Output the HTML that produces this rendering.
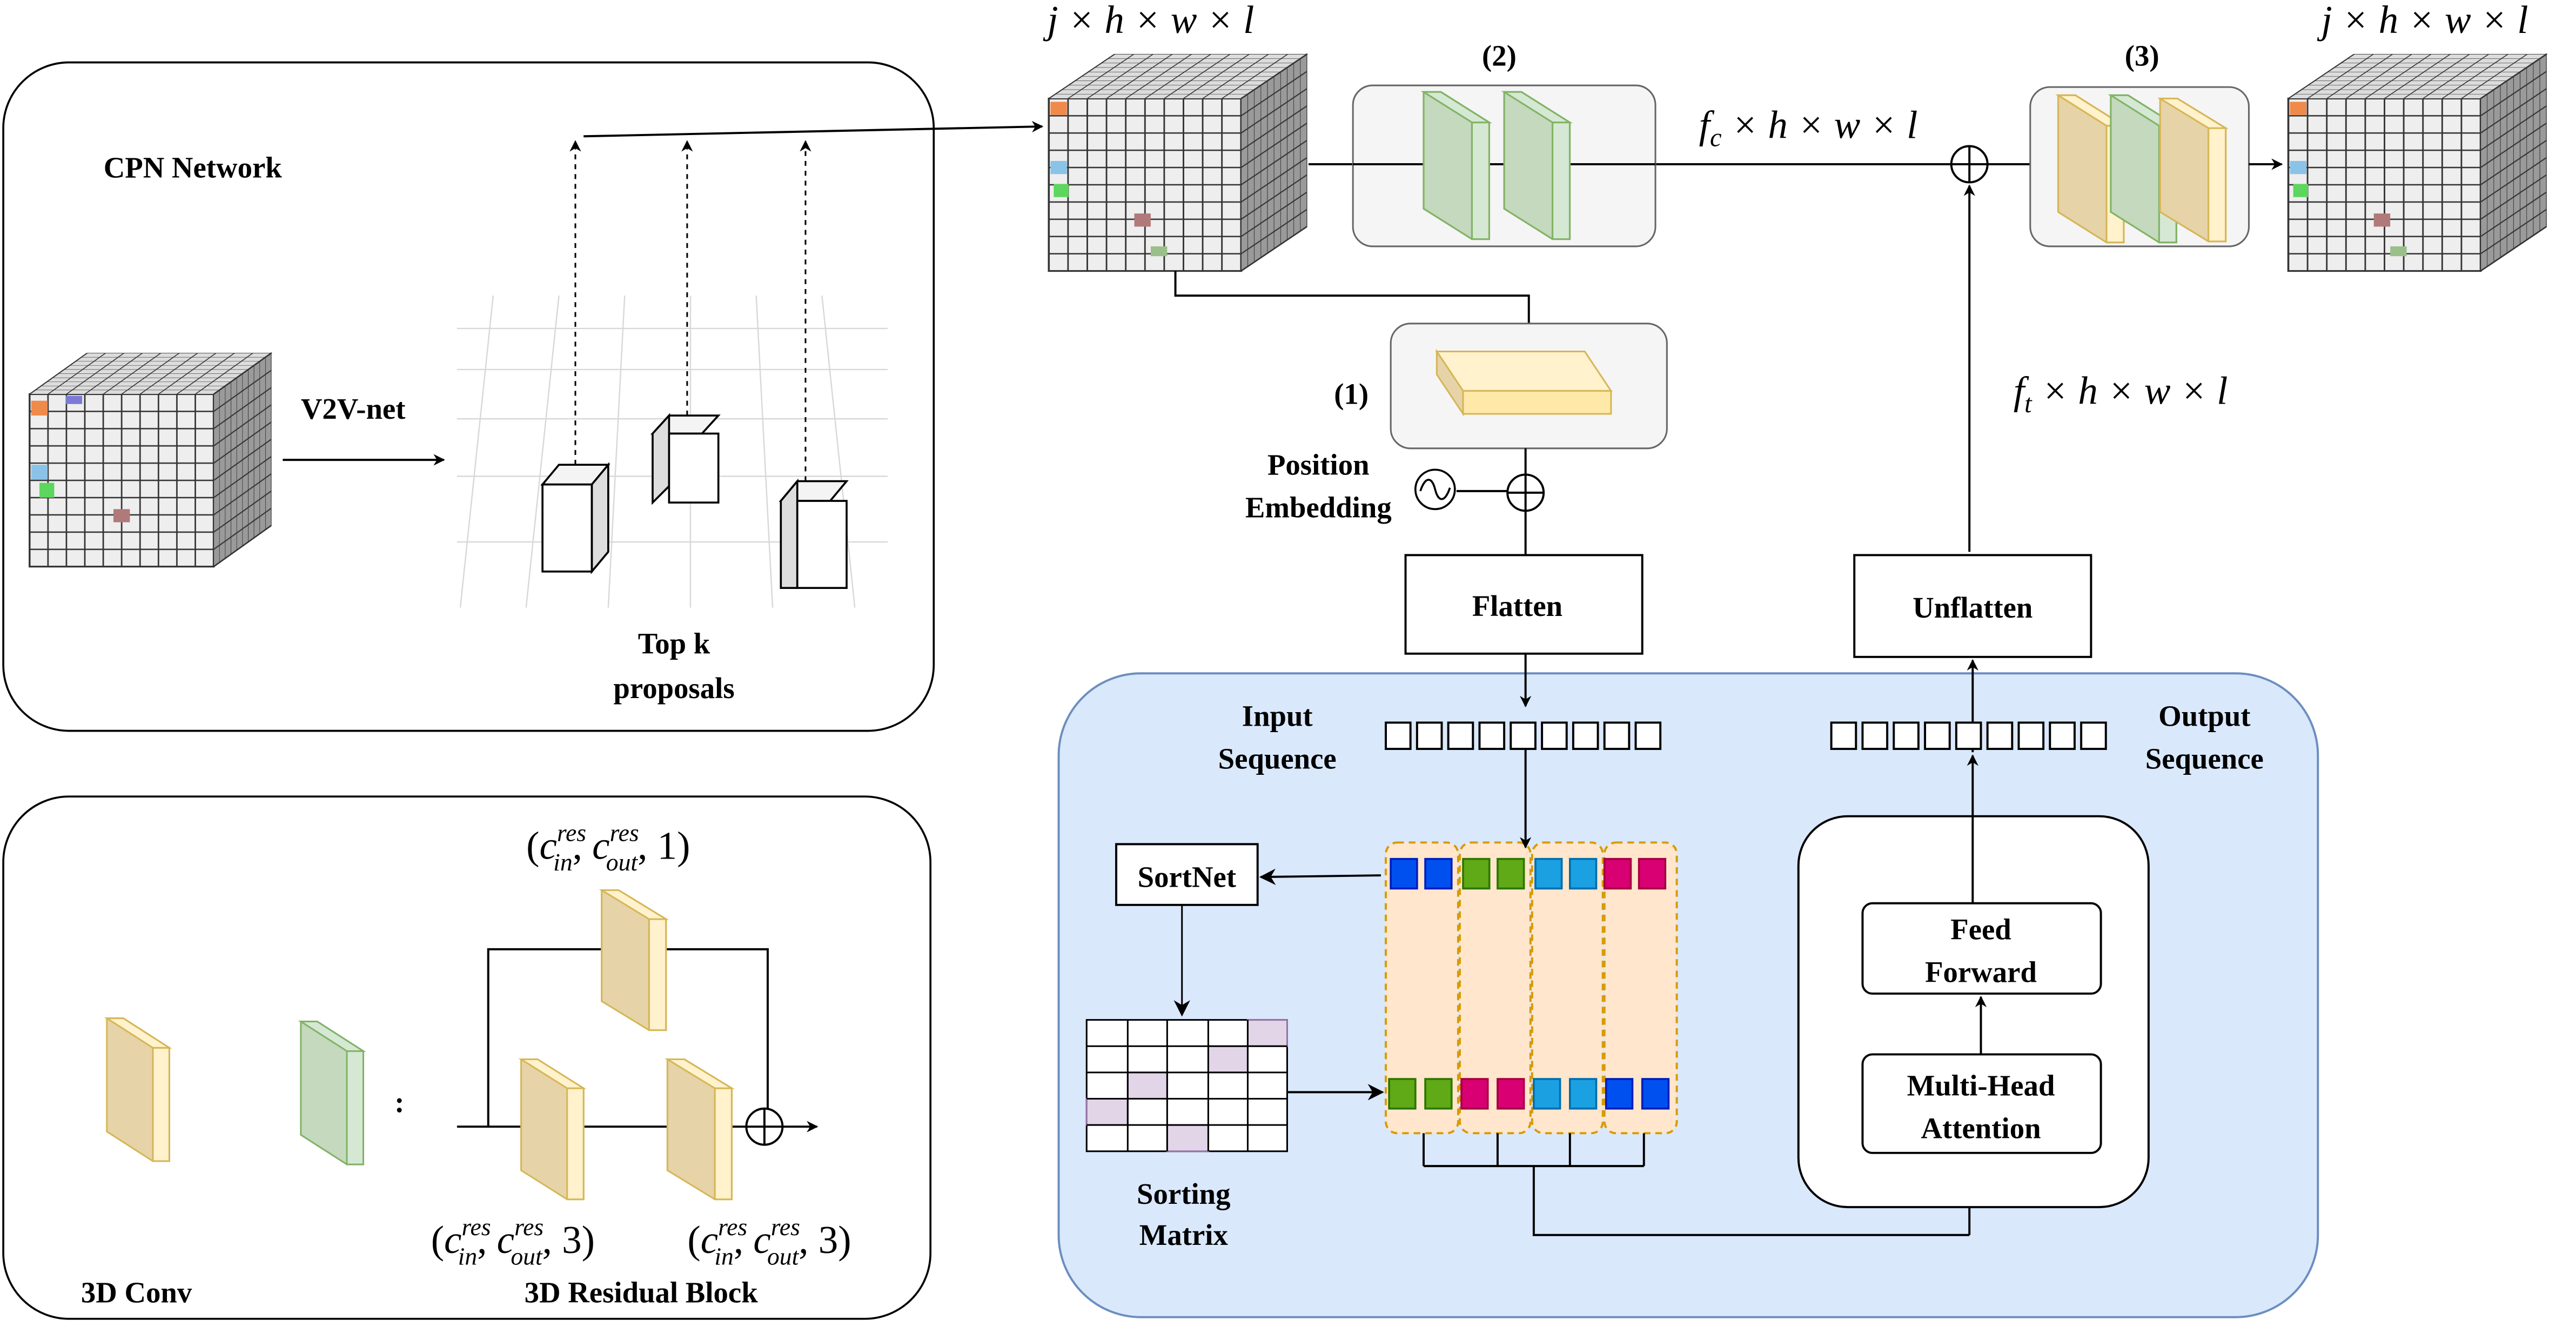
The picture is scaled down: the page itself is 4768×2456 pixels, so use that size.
<!DOCTYPE html>
<html><head><meta charset="utf-8"><style>html,body{margin:0;padding:0;background:#fff}svg{display:block}
text{font-family:"Liberation Serif",serif;fill:#000}
.b{font-weight:bold;font-size:18px}
.m{font-style:italic;font-size:24px}
</style></head><body>
<svg width="4768" height="2456" viewBox="0 0 1567 808" preserveAspectRatio="none" xmlns="http://www.w3.org/2000/svg">
<defs>
<pattern id="g" width="10" height="10" patternUnits="userSpaceOnUse"><rect width="10" height="10" fill="#eeeeee" stroke="#333" stroke-width="0.8"/></pattern>
<pattern id="g2" width="10" height="10" patternUnits="userSpaceOnUse"><rect width="10" height="10" fill="#9a9a9a" stroke="#333" stroke-width="0.8"/></pattern>
<pattern id="g3" width="10" height="10" patternUnits="userSpaceOnUse"><rect width="10" height="10" fill="#dcdcdc" stroke="#333" stroke-width="0.8"/></pattern>
<marker id="a" viewBox="0 0 10 10" refX="9" refY="5" markerWidth="7" markerHeight="7" orient="auto" markerUnits="userSpaceOnUse"><path d="M0,0 L10,5 L0,10 L3,5z" fill="#000"/></marker>
<marker id="ab" viewBox="0 0 10 10" refX="9" refY="5" markerWidth="10" markerHeight="10" orient="auto" markerUnits="userSpaceOnUse"><path d="M0,0 L10,5 L0,10 L3,5z" fill="#000"/></marker>
<g id="front"><rect width="100" height="100" fill="url(#g)" stroke="#333"/></g>
<g id="top"><rect width="100" height="100" fill="url(#g3)" stroke="#333"/></g>
<g id="side"><rect width="100" height="100" fill="url(#g2)" stroke="#333"/></g>
<g id="ys"><polygon points="0,0 10,0 38,18 38,87 28,87 0,69" fill="#e6d3a8" stroke="#d6b656"/><rect x="28" y="18" width="10" height="69" fill="#fff2cc" stroke="#d6b656"/><polygon points="0,0 10,0 38,18 28,18" fill="#fff2cc" stroke="#d6b656"/></g>
<g id="gs"><polygon points="0,0 10,0 38,18 38,87 28,87 0,69" fill="#c4d9bd" stroke="#82b366"/><rect x="28" y="18" width="10" height="69" fill="#d5e8d4" stroke="#82b366"/><polygon points="0,0 10,0 38,18 28,18" fill="#d5e8d4" stroke="#82b366"/></g>
</defs>

<rect x="2" y="38" width="566" height="407" rx="40" fill="#fff" stroke="#000" stroke-width="1.2"/>
<text x="63" y="108" class="b">CPN Network</text>
<use href="#front" transform="matrix(1.12,0,0,1.05,18,240)"/>
<use href="#top" transform="matrix(1.12,0,-0.35,0.25,53,215)"/>
<use href="#side" transform="matrix(0.35,-0.25,0,1.05,130,240)"/>
<rect x="19" y="244" width="10" height="9" fill="#f08a4b"/><rect x="19" y="283" width="10" height="9" fill="#8bc3e8"/><rect x="24" y="294" width="9" height="9" fill="#5cd65c"/><rect x="69" y="310" width="10" height="8" fill="#b07a7a"/><rect x="40" y="241" width="10" height="5" fill="#7b7bd6"/>
<text x="183" y="255" class="b">V2V-net</text>
<line x1="172" y1="280" x2="270" y2="280" stroke="#000" stroke-width="1.3" marker-end="url(#a)"/>
<g stroke="#d8d8d8" stroke-width="0.8">
<line x1="278" y1="200" x2="540" y2="200"/><line x1="278" y1="225" x2="540" y2="225"/><line x1="278" y1="255" x2="540" y2="255"/><line x1="278" y1="290" x2="540" y2="290"/><line x1="278" y1="330" x2="540" y2="330"/>
<line x1="300" y1="180" x2="280" y2="370"/><line x1="340" y1="180" x2="320" y2="370"/><line x1="380" y1="180" x2="370" y2="370"/><line x1="420" y1="180" x2="420" y2="370"/><line x1="460" y1="180" x2="470" y2="370"/><line x1="500" y1="180" x2="520" y2="370"/>
</g>
<g stroke="#000" stroke-width="1.2">
<polygon points="330,295 340,283 370,283 360,295" fill="#f4f4f4"/><polygon points="360,295 370,283 370,336 360,348" fill="#ddd"/><rect x="330" y="295" width="30" height="53" fill="#fff"/>
<polygon points="397,264 407,253 437,253 427,264" fill="#f4f4f4"/><polygon points="397,264 407,253 407,296 397,306" fill="#ddd"/><rect x="407" y="264" width="30" height="42" fill="#fff"/>
<polygon points="475,305 485,293 515,293 505,305" fill="#f4f4f4"/><polygon points="475,305 485,293 485,358 475,358" fill="#ddd"/><rect x="485" y="305" width="30" height="53" fill="#fff"/>
</g>
<g stroke="#000" stroke-width="1" stroke-dasharray="3,3">
<line x1="350" y1="283" x2="350" y2="86" marker-end="url(#a)"/>
<line x1="418" y1="253" x2="418" y2="86" marker-end="url(#a)"/>
<line x1="490" y1="293" x2="490" y2="86" marker-end="url(#a)"/>
</g>
<line x1="355" y1="83" x2="634" y2="77" stroke="#000" stroke-width="1.3" marker-end="url(#a)"/>
<text x="410" y="398" class="b" text-anchor="middle">Top k</text>
<text x="410" y="425" class="b" text-anchor="middle">proposals</text>

<text x="700" y="20" class="m" text-anchor="middle">j × h × w × l</text>
<use href="#front" transform="matrix(1.17,0,0,1.05,638,60)"/>
<use href="#top" transform="matrix(1.17,0,-0.4,0.27,678,33)"/>
<use href="#side" transform="matrix(0.4,-0.27,0,1.05,755,60)"/>
<rect x="639" y="62" width="10" height="8" fill="#f08a4b"/><rect x="639" y="98" width="10" height="8" fill="#8bc3e8"/><rect x="641" y="112" width="9" height="8" fill="#5cd65c"/><rect x="690" y="130" width="10" height="8" fill="#b07a7a"/><rect x="700" y="150" width="10" height="6" fill="#9bbf8a"/>
<text x="1475" y="20" class="m" text-anchor="middle">j × h × w × l</text>
<use href="#front" transform="matrix(1.17,0,0,1.05,1392,60)"/>
<use href="#top" transform="matrix(1.17,0,-0.4,0.27,1432,33)"/>
<use href="#side" transform="matrix(0.4,-0.27,0,1.05,1509,60)"/>
<rect x="1393" y="62" width="10" height="8" fill="#f08a4b"/><rect x="1393" y="98" width="10" height="8" fill="#8bc3e8"/><rect x="1395" y="112" width="9" height="8" fill="#5cd65c"/><rect x="1444" y="130" width="10" height="8" fill="#b07a7a"/><rect x="1454" y="150" width="10" height="6" fill="#9bbf8a"/>

<text x="912" y="40" class="b" text-anchor="middle">(2)</text>
<line x1="796" y1="100" x2="1187" y2="100" stroke="#000" stroke-width="1.3"/>
<rect x="823" y="52" width="184" height="98" rx="12" fill="#f5f5f5" stroke="#666"/>
<line x1="823" y1="100" x2="1007" y2="100" stroke="#000" stroke-width="1.3"/>
<use href="#gs" transform="translate(866,56) scale(1.05,1.03)"/>
<use href="#gs" transform="translate(915,56) scale(1.05,1.03)"/>
<text x="1100" y="84" class="m" text-anchor="middle">f<tspan font-size="16" dy="5">c</tspan><tspan dy="-5"> × h × w × l</tspan></text>
<circle cx="1198" cy="100" r="11" fill="#fff" stroke="#000" stroke-width="1.3"/><path d="M1187,100 H1209 M1198,89 V111" stroke="#000" stroke-width="1.3"/>
<line x1="1209" y1="100" x2="1235" y2="100" stroke="#000" stroke-width="1.3"/>
<text x="1303" y="40" class="b" text-anchor="middle">(3)</text>
<rect x="1235" y="53" width="133" height="97" rx="12" fill="#f5f5f5" stroke="#666"/>
<use href="#ys" transform="translate(1252,58) scale(1.05,1.03)"/>
<use href="#gs" transform="translate(1284,58) scale(1.05,1.03)"/>
<use href="#ys" transform="translate(1314,60) scale(1.05,1.0)"/>
<line x1="1368" y1="100" x2="1388" y2="100" stroke="#000" stroke-width="1.3" marker-end="url(#a)"/>
<line x1="1198" y1="336" x2="1198" y2="113" stroke="#000" stroke-width="1.3" marker-end="url(#a)"/>
<text x="1290" y="246" class="m" text-anchor="middle">f<tspan font-size="16" dy="5">t</tspan><tspan dy="-5"> × h × w × l</tspan></text>

<polyline points="715,165 715,180 930,180 930,197" fill="none" stroke="#000" stroke-width="1.3"/>
<rect x="846" y="197" width="168" height="76" rx="12" fill="#f5f5f5" stroke="#666"/>
<polygon points="874,214 964,214 980,238 890,238" fill="#fff2cc" stroke="#d6b656"/>
<polygon points="874,214 890,238 890,252 874,228" fill="#e6d3a8" stroke="#d6b656"/>
<rect x="890" y="238" width="90" height="14" fill="#ffe9a8" stroke="#d6b656"/>
<text x="822" y="246" class="b" text-anchor="middle">(1)</text>
<line x1="928" y1="273" x2="928" y2="338" stroke="#000" stroke-width="1.3"/>
<circle cx="928" cy="300" r="11" fill="#fff" stroke="#000" stroke-width="1.3"/><path d="M917,300 H939 M928,289 V311" stroke="#000" stroke-width="1.3"/>
<line x1="886" y1="299" x2="917" y2="299" stroke="#000" stroke-width="1.3"/>
<circle cx="873" cy="298" r="12" fill="#fff" stroke="#000" stroke-width="1.2"/>
<path d="M864,299 C867,290 871,290 873,298 C875,306 879,306 882,297" fill="none" stroke="#000" stroke-width="1.2"/>
<text x="802" y="289" class="b" text-anchor="middle">Position</text>
<text x="802" y="315" class="b" text-anchor="middle">Embedding</text>

<rect x="855" y="338" width="144" height="60" fill="#fff" stroke="#000" stroke-width="1.3"/>
<text x="923" y="375" class="b" text-anchor="middle">Flatten</text>
<rect x="1128" y="338" width="144" height="62" fill="#fff" stroke="#000" stroke-width="1.3"/>
<text x="1200" y="376" class="b" text-anchor="middle">Unflatten</text>

<rect x="644" y="410" width="766" height="392" rx="50" fill="#dae8fc" stroke="#6c8ebf" stroke-width="1.3"/>
<line x1="928" y1="398" x2="928" y2="430" stroke="#000" stroke-width="1.3" marker-end="url(#a)"/>
<line x1="1200" y1="458" x2="1200" y2="402" stroke="#000" stroke-width="1.3" marker-end="url(#a)"/>
<text x="777" y="442" class="b" text-anchor="middle">Input</text>
<text x="777" y="468" class="b" text-anchor="middle">Sequence</text>
<text x="1341" y="442" class="b" text-anchor="middle">Output</text>
<text x="1341" y="468" class="b" text-anchor="middle">Sequence</text>
<g fill="#fff" stroke="#000" stroke-width="1.3">
<rect x="843" y="440" width="15" height="16"/><rect x="862" y="440" width="15" height="16"/><rect x="881" y="440" width="15" height="16"/><rect x="900" y="440" width="15" height="16"/><rect x="919" y="440" width="15" height="16"/><rect x="938" y="440" width="15" height="16"/><rect x="957" y="440" width="15" height="16"/><rect x="976" y="440" width="15" height="16"/><rect x="995" y="440" width="15" height="16"/>
<rect x="1114" y="440" width="15" height="16"/><rect x="1133" y="440" width="15" height="16"/><rect x="1152" y="440" width="15" height="16"/><rect x="1171" y="440" width="15" height="16"/><rect x="1190" y="440" width="15" height="16"/><rect x="1209" y="440" width="15" height="16"/><rect x="1228" y="440" width="15" height="16"/><rect x="1247" y="440" width="15" height="16"/><rect x="1266" y="440" width="15" height="16"/>
</g>
<g fill="#ffe6cc" stroke="#d79b00" stroke-width="1.3" stroke-dasharray="4,3">
<rect x="843" y="513" width="44" height="177" rx="7"/><rect x="888" y="513" width="43" height="177" rx="7"/><rect x="932" y="513" width="43" height="177" rx="7"/><rect x="976" y="513" width="44" height="177" rx="7"/>
</g>
<line x1="928" y1="456" x2="928" y2="516" stroke="#000" stroke-width="1.3" marker-end="url(#a)"/>
<g stroke-width="1.2">
<rect x="846" y="523" width="16" height="18" fill="#0050ef" stroke="#001dbc"/><rect x="867" y="523" width="16" height="18" fill="#0050ef" stroke="#001dbc"/>
<rect x="890" y="523" width="16" height="18" fill="#60a917" stroke="#2d7600"/><rect x="911" y="523" width="16" height="18" fill="#60a917" stroke="#2d7600"/>
<rect x="934" y="523" width="16" height="18" fill="#1ba1e2" stroke="#006eaf"/><rect x="955" y="523" width="16" height="18" fill="#1ba1e2" stroke="#006eaf"/>
<rect x="976" y="523" width="16" height="18" fill="#d80073" stroke="#a50040"/><rect x="997" y="523" width="16" height="18" fill="#d80073" stroke="#a50040"/>
<rect x="845" y="657" width="16" height="18" fill="#60a917" stroke="#2d7600"/><rect x="867" y="657" width="16" height="18" fill="#60a917" stroke="#2d7600"/>
<rect x="889" y="657" width="16" height="18" fill="#d80073" stroke="#a50040"/><rect x="911" y="657" width="16" height="18" fill="#d80073" stroke="#a50040"/>
<rect x="933" y="657" width="16" height="18" fill="#1ba1e2" stroke="#006eaf"/><rect x="955" y="657" width="16" height="18" fill="#1ba1e2" stroke="#006eaf"/>
<rect x="977" y="657" width="16" height="18" fill="#0050ef" stroke="#001dbc"/><rect x="999" y="657" width="16" height="18" fill="#0050ef" stroke="#001dbc"/>
</g>
<rect x="679" y="514" width="86" height="37" fill="#fff" stroke="#000" stroke-width="1.3"/>
<text x="722" y="540" class="b" text-anchor="middle">SortNet</text>
<line x1="840" y1="533" x2="767" y2="534" stroke="#000" stroke-width="1.3" marker-end="url(#ab)"/>
<line x1="719" y1="551" x2="719" y2="618" stroke="#000" stroke-width="1" marker-end="url(#ab)"/>
<g stroke="#000" stroke-width="1">
<rect x="661" y="621" width="122" height="80" fill="#fff"/>
<rect x="759" y="621" width="24" height="16" fill="#e1d5e7" stroke="#9673a6"/>
<rect x="735" y="637" width="24" height="16" fill="#e1d5e7" stroke="#9673a6"/>
<rect x="686" y="653" width="24" height="16" fill="#e1d5e7" stroke="#9673a6"/>
<rect x="661" y="669" width="25" height="16" fill="#e1d5e7" stroke="#9673a6"/>
<rect x="710" y="685" width="25" height="16" fill="#e1d5e7" stroke="#9673a6"/>
<path d="M686,621V701M710,621V701M735,621V701M759,621V701M661,637H783M661,653H783M661,669H783M661,685H783" fill="none"/>
</g>
<line x1="783" y1="665" x2="841" y2="665" stroke="#000" stroke-width="1.3" marker-end="url(#ab)"/>
<text x="720" y="733" class="b" text-anchor="middle">Sorting</text>
<text x="720" y="758" class="b" text-anchor="middle">Matrix</text>
<path d="M866,690V710M911,690V710M955,690V710M1000,690V710M866,710H1000M933,710V752H1198" fill="none" stroke="#000" stroke-width="1.3"/>
<line x1="1198" y1="752" x2="1198" y2="705" stroke="#000" stroke-width="1.3" marker-end="url(#a)"/>
<rect x="1094" y="497" width="213" height="238" rx="30" fill="#fff" stroke="#000" stroke-width="1.3"/>
<rect x="1133" y="550" width="145" height="55" rx="6" fill="#fff" stroke="#000" stroke-width="1.3"/>
<text x="1205" y="572" class="b" text-anchor="middle">Feed</text>
<text x="1205" y="598" class="b" text-anchor="middle">Forward</text>
<rect x="1133" y="642" width="145" height="60" rx="6" fill="#fff" stroke="#000" stroke-width="1.3"/>
<text x="1205" y="667" class="b" text-anchor="middle">Multi-Head</text>
<text x="1205" y="693" class="b" text-anchor="middle">Attention</text>
<line x1="1205" y1="642" x2="1205" y2="607" stroke="#000" stroke-width="1.3" marker-end="url(#a)"/>
<line x1="1200" y1="550" x2="1200" y2="460" stroke="#000" stroke-width="1.3" marker-end="url(#a)"/>

<rect x="2" y="485" width="564" height="318" rx="40" fill="#fff" stroke="#000" stroke-width="1.2"/>
<use href="#ys" transform="translate(65,620)"/>
<use href="#gs" transform="translate(183,622)"/>
<text x="243" y="677" class="b" text-anchor="middle">:</text>
<path d="M297,686V578H467V676" fill="none" stroke="#000" stroke-width="1.3"/>
<line x1="278" y1="686" x2="497" y2="686" stroke="#000" stroke-width="1.3" marker-end="url(#a)"/>
<use href="#ys" transform="translate(366,542) scale(1.03,0.98)"/>
<use href="#ys" transform="translate(317,645) scale(1.0,0.98)"/>
<use href="#ys" transform="translate(406,645) scale(1.03,0.98)"/>
<circle cx="465" cy="686" r="11" fill="#fff" stroke="#000" stroke-width="1.3"/><path d="M454,686H476M465,675V697" stroke="#000" stroke-width="1.3"/>
<text x="370" y="523" font-size="24" text-anchor="middle">(<tspan font-style="italic">c</tspan><tspan font-size="15" font-style="italic" dy="-11">res</tspan><tspan font-size="15" font-style="italic" dx="-20" dy="18">in</tspan><tspan dy="-7">, </tspan><tspan font-style="italic">c</tspan><tspan font-size="15" font-style="italic" dy="-11">res</tspan><tspan font-size="15" font-style="italic" dx="-20" dy="18">out</tspan><tspan dy="-7">, 1)</tspan></text>
<text x="312" y="763" font-size="24" text-anchor="middle">(<tspan font-style="italic">c</tspan><tspan font-size="15" font-style="italic" dy="-11">res</tspan><tspan font-size="15" font-style="italic" dx="-20" dy="18">in</tspan><tspan dy="-7">, </tspan><tspan font-style="italic">c</tspan><tspan font-size="15" font-style="italic" dy="-11">res</tspan><tspan font-size="15" font-style="italic" dx="-20" dy="18">out</tspan><tspan dy="-7">, 3)</tspan></text>
<text x="468" y="763" font-size="24" text-anchor="middle">(<tspan font-style="italic">c</tspan><tspan font-size="15" font-style="italic" dy="-11">res</tspan><tspan font-size="15" font-style="italic" dx="-20" dy="18">in</tspan><tspan dy="-7">, </tspan><tspan font-style="italic">c</tspan><tspan font-size="15" font-style="italic" dy="-11">res</tspan><tspan font-size="15" font-style="italic" dx="-20" dy="18">out</tspan><tspan dy="-7">, 3)</tspan></text>
<text x="83" y="793" class="b" text-anchor="middle">3D Conv</text>
<text x="390" y="793" class="b" text-anchor="middle">3D Residual Block</text>
</svg>
</body></html>
